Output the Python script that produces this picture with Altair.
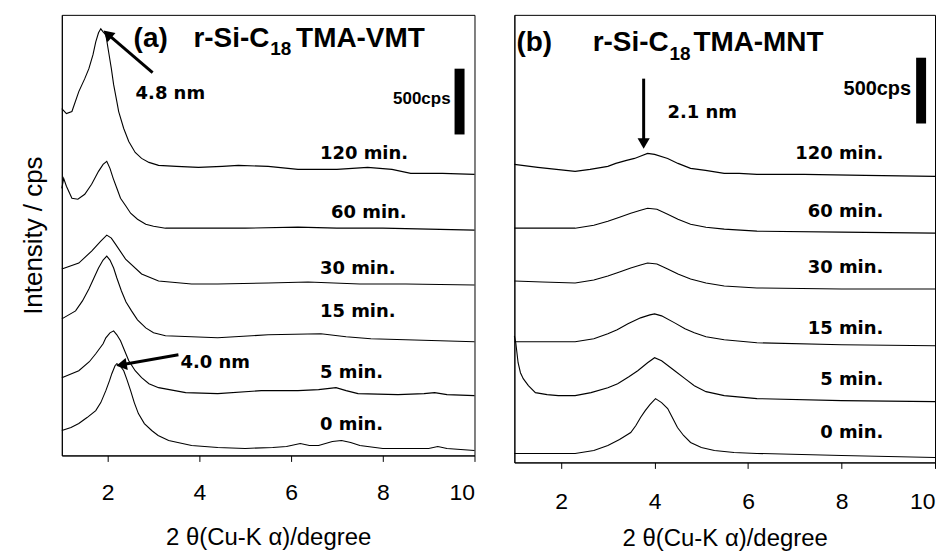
import altair as alt
import pandas as pd

CURVES = ["0 min.", "5 min.", "15 min.", "30 min.", "60 min.", "120 min."]

# ---------------- Panel (a): r-Si-C18TMA-VMT ----------------
# 2theta (deg) and stacked intensity (a.u.; 66 a.u. = 500 cps scale bar)
a0_x = [1.0, 1.2, 1.37, 1.55, 1.74, 1.85, 1.96, 2.04, 2.09, 2.16, 2.2, 2.27, 2.35, 2.42, 2.5, 2.58, 2.67, 2.8, 2.96,
        3.1, 3.33, 3.83, 4.4, 5.0, 5.6, 5.9, 6.2, 6.4, 6.6, 6.9, 7.1, 7.3, 7.5, 8.0, 8.7, 9.0, 9.2, 9.4, 10.0]
a0_y = [25, 28, 32, 38, 45, 53, 65, 75, 82, 90, 92, 90, 85, 76, 65, 53, 42, 32, 25,
        20, 15, 10, 8, 7, 8, 9, 12, 10, 10, 14, 15, 13, 10, 7, 7, 7, 9, 7, 5]
a5_x = [1.0, 1.37, 1.6, 1.74, 1.9, 1.96, 2.05, 2.13, 2.2, 2.28, 2.37, 2.46, 2.6, 2.74, 2.9, 3.11, 3.7, 4.4, 5.35,
        6.15, 6.6, 6.98, 7.2, 7.46, 8.33, 8.9, 9.13, 9.4, 10.0]
a5_y = [78, 85, 94, 102, 112, 118, 123, 125, 121, 115, 105, 95, 85, 78, 72, 68, 63, 62, 65,
        65, 66, 68, 65, 62, 61, 62, 63, 61, 60]
a15_x = [1.0, 1.3, 1.45, 1.59, 1.7, 1.8, 1.9, 1.98, 2.05, 2.13, 2.2, 2.3, 2.4, 2.52, 2.65, 2.83, 3.0, 3.26, 4.4,
         5.5, 6.65, 7.2, 7.74, 8.5, 10.0]
a15_y = [137, 145, 155, 167, 178, 188, 196, 200, 196, 188, 178, 165, 154, 145, 136, 128, 123, 120, 118,
         121, 122, 119, 117, 116, 114]
a30_x = [1.0, 1.37, 1.65, 1.85, 1.98, 2.08, 2.17, 2.39, 2.74, 3.11, 3.83, 4.4, 5.5, 6.37, 7.5, 8.5, 10.0]
a30_y = [187, 193, 205, 215, 221, 218, 212, 197, 182, 175, 172, 172, 173, 174, 172, 172, 171]
a60_x = [1.0, 1.04, 1.1, 1.22, 1.35, 1.5, 1.65, 1.8, 1.9, 1.98, 2.05, 2.12, 2.2, 2.28, 2.4, 2.5, 2.65, 2.83, 3.0,
         3.26, 4.0, 5.0, 6.15, 7.0, 8.0, 9.0, 10.0]
a60_y = [268, 278, 270, 258, 257, 262, 272, 285, 292, 295, 288, 278, 268, 258, 250, 243, 237, 232, 230,
         228, 228, 228, 229, 228, 228, 227, 226]
a120_x = [1.0, 1.1, 1.22, 1.37, 1.5, 1.59, 1.68, 1.74, 1.8, 1.85, 1.9, 1.96, 2.02, 2.08, 2.13, 2.2, 2.24, 2.35,
          2.46, 2.6, 2.74, 2.9, 3.11, 3.5, 3.98, 4.5, 4.85, 5.5, 6.15, 7.0, 7.67, 8.2, 8.61, 9.3, 10.0]
a120_y = [348, 343, 345, 365, 378, 388, 402, 415, 424, 428, 425, 422, 405, 388, 372, 355, 345, 328,
          315, 304, 298, 294, 291, 290, 289, 290, 291, 290, 287, 287, 289, 287, 283, 283, 282]

# ---------------- Panel (b): r-Si-C18TMA-MNT ----------------
b0_x = [1.0, 1.6, 2.3, 2.7, 3.0, 3.25, 3.49, 3.6, 3.7, 3.8, 3.9, 4.02, 4.15, 4.28, 4.38, 4.49, 4.62, 4.77, 5.0,
        5.28, 5.7, 6.19, 8.0, 10.0]
b0_y = [9, 9, 9, 12, 17, 23, 30, 37, 45, 52, 58, 64, 60, 54, 45, 35, 27, 20, 15, 12, 10, 9, 7, 5]
b5_x = [1.0, 1.03, 1.08, 1.13, 1.19, 1.3, 1.45, 1.7, 1.94, 2.3, 2.64, 3.0, 3.21, 3.45, 3.64, 3.85, 4.0, 4.15,
        4.43, 4.65, 4.85, 5.1, 5.49, 6.19, 8.0, 10.0]
b5_y = [127, 120, 100, 90, 84, 77, 70, 68, 67, 67, 70, 75, 79, 86, 92, 100, 105, 102,
        92, 84, 77, 71, 67, 64, 62, 61]
b15_x = [1.0, 1.6, 2.3, 2.7, 3.0, 3.2, 3.43, 3.7, 3.9, 4.0, 4.15, 4.43, 4.65, 4.85, 5.1, 5.49, 6.19, 8.0, 10.0]
b15_y = [121, 121, 121, 124, 129, 133, 139, 145, 148, 149, 147, 140, 134, 130, 126, 123, 120, 118, 117]
b30_x = [1.0, 1.6, 2.3, 2.7, 3.0, 3.25, 3.49, 3.7, 3.85, 4.05, 4.28, 4.5, 4.77, 5.1, 5.49, 6.19, 8.0, 10.0]
b30_y = [182, 181, 180, 183, 187, 191, 195, 198, 200, 199, 194, 189, 184, 180, 177, 175, 174, 174]
b60_x = [1.0, 1.6, 2.3, 2.7, 3.0, 3.25, 3.49, 3.7, 3.85, 4.05, 4.28, 4.5, 4.77, 5.1, 5.49, 6.19, 8.0, 10.0]
b60_y = [235, 235, 235, 238, 242, 246, 250, 253, 255, 254, 249, 244, 239, 236, 234, 232, 231, 230]
b120_x = [1.0, 1.5, 1.9, 2.3, 2.62, 3.0, 3.17, 3.4, 3.57, 3.68, 3.85, 4.0, 4.28, 4.5, 4.77, 5.09, 5.49, 5.81,
          6.19, 7.2, 8.5, 10.0]
b120_y = [299, 296, 294, 292, 294, 297, 300, 303, 305, 307, 310, 309, 305, 300, 295, 293, 290, 290,
          289, 289, 288, 287]

# curve labels: (2theta, intensity) anchor
a_lab_x = [6.63, 6.63, 6.63, 6.63, 6.87, 6.63]
a_lab_y = [31, 83, 144, 187, 243, 302]
b_lab_x = [8.894] * 6
b_lab_y = [29, 83, 134, 195, 251, 309]

X_TITLE = "2 θ(Cu-K α)/degree"
BLACK = "#000000"


def curves_df(xs, ys):
    rows = []
    for name, xv, yv in zip(CURVES, xs, ys):
        for a, b in zip(xv, yv):
            rows.append({"theta": a, "I": b, "curve": name})
    return pd.DataFrame(rows)


def panel(curve_df, ymax, w, h, lab_x, lab_y, lab_align, titles, sub, nm_texts, cps, bar,
          rules, heads, ytitle, label_pad, title_pad):
    xenc = alt.X(
        "theta:Q",
        scale=alt.Scale(domain=[1, 10], nice=False, zero=False),
        axis=alt.Axis(values=[2, 4, 6, 8, 10], title=X_TITLE, grid=False, tickSize=6,
                      labelPadding=label_pad, titlePadding=title_pad, format="d"),
    )
    if ytitle:
        yaxis = alt.Axis(title=ytitle, labels=False, ticks=False, grid=False, titlePadding=15,
                         titleFontSize=26)
    else:
        yaxis = alt.Axis(title=None, labels=False, ticks=False, grid=False)
    yenc = alt.Y("I:Q", scale=alt.Scale(domain=[0, ymax], nice=False, zero=False), axis=yaxis)

    def text_layer(df, size, align, baseline, font="Liberation Sans", weight="bold"):
        return alt.Chart(df).mark_text(
            font=font, fontSize=size, fontWeight=weight, align=align, baseline=baseline, color=BLACK
        ).encode(x=xenc, y=yenc, text="t:N")

    lines = alt.Chart(curve_df).mark_line(color=BLACK, strokeWidth=1.1).encode(
        x=xenc, y=yenc, detail="curve:N", order="theta:Q")

    lab_df = pd.DataFrame({"theta": lab_x, "I": lab_y, "t": CURVES})
    labels = text_layer(lab_df, 18, lab_align, "middle", font="DejaVu Sans")

    tl = [t for t in titles if t[3] == "left"]
    tr = [t for t in titles if t[3] == "right"]
    layers = [lines, labels]
    if tl:
        layers.append(text_layer(pd.DataFrame([t[:3] for t in tl], columns=["theta", "I", "t"]),
                                 28, "left", "alphabetic"))
    if tr:
        layers.append(text_layer(pd.DataFrame([t[:3] for t in tr], columns=["theta", "I", "t"]),
                                 28, "right", "alphabetic"))
    sdf = pd.DataFrame([sub], columns=["theta", "I", "t"])
    layers.append(text_layer(sdf, 19, "left", "alphabetic"))

    ndf = pd.DataFrame(nm_texts, columns=["theta", "I", "t"])
    layers.append(text_layer(ndf, 18, "left", "middle", font="DejaVu Sans"))

    cdf = pd.DataFrame([cps[:3]], columns=["theta", "I", "t"])
    layers.append(text_layer(cdf, cps[4], "right", "middle", font=cps[3]))

    bdf = pd.DataFrame([bar], columns=["theta", "theta2", "I", "I2"])
    layers.append(alt.Chart(bdf).mark_rect(color=BLACK).encode(
        x=xenc, x2="theta2:Q", y=yenc, y2="I2:Q"))

    rdf = pd.DataFrame(rules, columns=["theta", "theta2", "I", "I2"])
    layers.append(alt.Chart(rdf).mark_rule(color=BLACK, strokeWidth=3).encode(
        x=xenc, x2="theta2:Q", y=yenc, y2="I2:Q"))

    hdf = pd.DataFrame(heads, columns=["theta", "I", "ang"])
    layers.append(alt.Chart(hdf).mark_point(shape="triangle-up", filled=True, size=150, color=BLACK,
                                            opacity=1, strokeWidth=0).encode(
        x=xenc, y=yenc, angle=alt.Angle("ang:Q", scale=None)))

    return alt.layer(*layers).properties(width=w, height=h)


dfa = curves_df([a0_x, a5_x, a15_x, a30_x, a60_x, a120_x], [a0_y, a5_y, a15_y, a30_y, a60_y, a120_y])
dfb = curves_df([b0_x, b5_x, b15_x, b30_x, b60_x, b120_x], [b0_y, b5_y, b15_y, b30_y, b60_y, b120_y])

pa = panel(
    dfa, 442, 414, 442, a_lab_x, a_lab_y, "left",
    titles=[(2.565, 410, "(a)", "left"), (3.870, 410, "r-Si-C", "left"), (6.109, 410, "TMA-VMT", "left")],
    sub=(5.543, 402, "18"),
    nm_texts=[(2.609, 363, "4.8 nm"), (3.587, 93, "4.0 nm")],
    cps=(9.478, 358, "500cps", "Liberation Sans", 17),
    bar=(9.565, 9.783, 322, 388),
    rules=[(2.98, 2.0, 384, 422.7), (3.543, 2.302, 101, 90.9)],
    heads=[(1.996, 422.7, 311), (2.302, 90.9, 260)],
    ytitle="Intensity / cps", label_pad=20, title_pad=21,
)

pb = panel(
    dfb, 449, 422, 449, b_lab_x, b_lab_y, "right",
    titles=[(1.043, 413, "(b)", "left"), (4.30, 413, "r-Si-C", "right"), (4.83, 413, "TMA-MNT", "left")],
    sub=(4.319, 404, "18"),
    nm_texts=[(4.277, 351, "2.1 nm")],
    cps=(9.489, 375, "500cps", "Liberation Sans", 20),
    bar=(9.596, 9.809, 340, 406),
    rules=[(3.766, 3.766, 385, 320)],
    heads=[(3.766, 320, 180)],
    ytitle=None, label_pad=22, title_pad=13,
)

chart = alt.hconcat(pa, pb, spacing=34).properties(
    padding={"left": 12, "top": 5, "right": 2, "bottom": 0}
).configure_view(
    stroke=BLACK, strokeWidth=1
).configure_axis(
    domainColor=BLACK, tickColor=BLACK, labelColor=BLACK, titleColor=BLACK,
    labelFont="Liberation Sans", titleFont="Liberation Sans",
    labelFontSize=23, titleFontSize=24, titleFontWeight="normal",
)

chart.save("out.html", embed_options={"renderer": "svg", "actions": False})
